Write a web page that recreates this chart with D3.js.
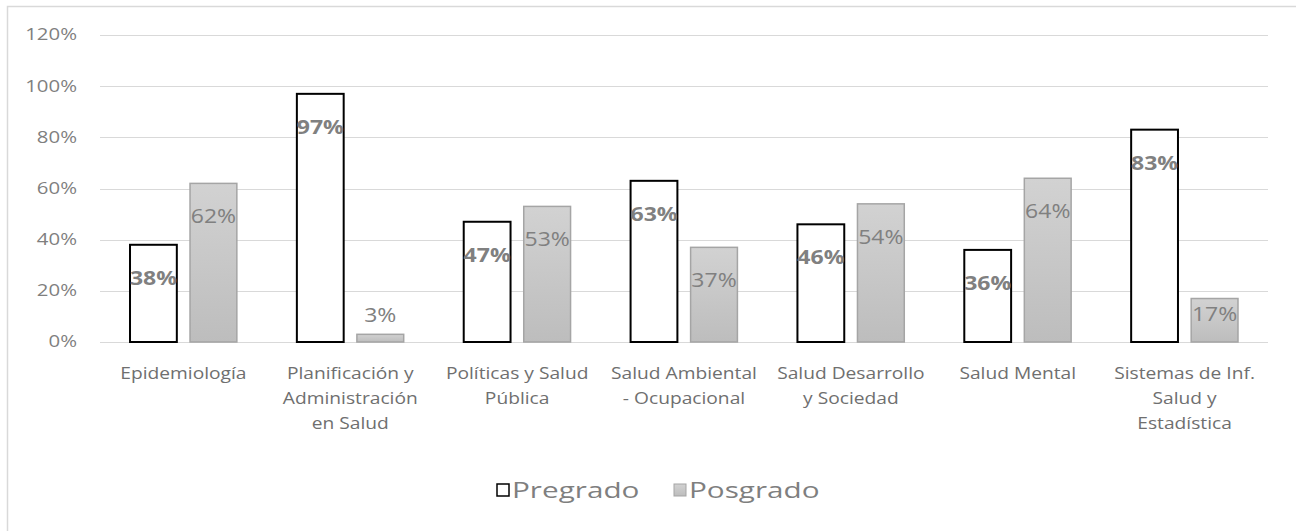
<!doctype html>
<html lang="en">
<head>
  <meta charset="utf-8">
  <title>Pregrado vs Posgrado</title>
  <style>
body {
  margin: 0;
  background: #fff;
}
svg text {
  font-family: "Open Sans", sans-serif;
}
.grid line {
  stroke: #d9d9d9;
  stroke-width: 1.5;
  shape-rendering: crispEdges;
}
  </style>
</head>
<body>
  <script src="https://d3js.org/d3.v7.min.js"></script>
  <script>
// categories and values (percent)
var categories = [
  ["Epidemiología"],
  ["Planificación y", "Administración", "en Salud"],
  ["Políticas y Salud", "Pública"],
  ["Salud Ambiental", "- Ocupacional"],
  ["Salud Desarrollo", "y Sociedad"],
  ["Salud Mental"],
  ["Sistemas de Inf.", "Salud y", "Estadística"]
];
var series = ["Pregrado", "Posgrado"];
var pregrado = [38, 97, 47, 63, 46, 36, 83];
var posgrado = [62, 3, 53, 37, 54, 64, 17];
var yTicks = [0, 20, 40, 60, 80, 100, 120];

var W = 1296, H = 531;
var plot = {left: 100, right: 1268, top: 35, bottom: 342};
// the source picture is a little wide, so text is stretched sideways
var SX = 1.2;

function place(px, py, sx) {
  return "translate(" + px + "," + py + ") scale(" + (sx || SX) + ",1)";
}

var svg = d3.select("body").append("svg")
    .attr("width", W)
    .attr("height", H);

var defs = svg.append("defs");
var grad = defs.append("linearGradient")
    .attr("id", "gray")
    .attr("x1", 0).attr("y1", 0).attr("x2", 0).attr("y2", 1);
grad.append("stop").attr("offset", "0%").attr("stop-color", "#d2d2d2");
grad.append("stop").attr("offset", "100%").attr("stop-color", "#bdbdbd");

// chart border
svg.append("rect")
    .attr("x", 7.5).attr("y", 6.5)
    .attr("width", W).attr("height", H)
    .attr("fill", "none")
    .attr("stroke", "#d9d9d9")
    .attr("stroke-width", 1.5);

var x = d3.scaleBand()
    .domain(d3.range(categories.length))
    .range([plot.left, plot.right]);

var x1 = d3.scaleBand()
    .domain(series)
    .range([0, x.bandwidth()])
    .paddingInner(0.22)
    .paddingOuter(0.5);

var y = d3.scaleLinear()
    .domain([0, 120])
    .range([plot.bottom, plot.top]);

// gridlines
svg.append("g")
    .attr("class", "grid")
    .selectAll("line")
    .data(yTicks)
    .enter().append("line")
    .attr("x1", plot.left)
    .attr("x2", plot.right)
    .attr("y1", function(d) { return Math.round(y(d)) + 0.5; })
    .attr("y2", function(d) { return Math.round(y(d)) + 0.5; });

// y axis labels, built by the axis then stretched
var yAxis = d3.axisLeft(y)
    .tickValues(yTicks)
    .tickFormat(function(d) { return d + "%"; })
    .tickSize(0)
    .tickPadding(0);
var gy = svg.append("g")
    .attr("transform", "translate(" + (plot.left - 23) + ",0)")
    .call(yAxis);
gy.select(".domain").remove();
gy.selectAll(".tick").attr("transform", function(d) {
  return place(0, y(d));
});
gy.selectAll("text")
    .attr("x", 0)
    .style("font-size", "17px")
    .style("font-family", "Open Sans, sans-serif")
    .style("fill", "#7f7f7f");

// x axis labels (multi-line)
svg.append("g").selectAll("text")
    .data(categories)
    .enter().append("text")
    .attr("transform", function(d, i) { return place(x(i) + x.bandwidth() / 2, 379); })
    .attr("text-anchor", "middle")
    .style("font-size", "16px")
    .style("fill", "#6f6f6f")
    .selectAll("tspan")
    .data(function(d) { return d; })
    .enter().append("tspan")
    .attr("x", 0)
    .attr("dy", function(d, i) { return i === 0 ? 0 : 25; })
    .text(function(d) { return d; });

var rows = categories.map(function(c, i) {
  return {i: i, values: [
    {key: "Pregrado", value: pregrado[i]},
    {key: "Posgrado", value: posgrado[i]}
  ]};
});

var groups = svg.selectAll(".cat")
    .data(rows)
    .enter().append("g")
    .attr("class", "cat")
    .attr("transform", function(d) { return "translate(" + x(d.i) + ",0)"; });

groups.selectAll("rect")
    .data(function(d) { return d.values; })
    .enter().append("rect")
    .attr("x", function(d) { return x1(d.key); })
    .attr("width", x1.bandwidth())
    .attr("y", function(d) { return y(d.value); })
    .attr("height", function(d) { return y(0) - y(d.value); })
    .attr("fill", function(d) { return d.key === "Pregrado" ? "#fff" : "url(#gray)"; })
    .attr("stroke", function(d) { return d.key === "Pregrado" ? "#000" : "#a5a5a5"; })
    .attr("stroke-width", function(d) { return d.key === "Pregrado" ? 2 : 1.5; });

// value labels, inside the top of the bar, above it when the bar is too short
groups.selectAll(".lbl")
    .data(function(d) { return d.values; })
    .enter().append("text")
    .attr("class", "lbl")
    .attr("transform", function(d) {
      var top = y(d.value), h = y(0) - top, ly;
      if (h < 20) ly = top - 12;
      else ly = top + Math.min(33, h / 2 - 6) + 7;
      return place(x1(d.key) + x1.bandwidth() / 2, ly, 1.15);
    })
    .attr("text-anchor", "middle")
    .style("font-size", "20px")
    .style("font-weight", function(d) { return d.key === "Pregrado" ? "bold" : "normal"; })
    .style("fill", "#808080")
    .text(function(d) { return d.value + "%"; });

// legend
var legend = svg.append("g").attr("transform", "translate(497,484)");
var item = legend.selectAll("g")
    .data(series)
    .enter().append("g")
    .attr("transform", function(d, i) { return "translate(" + (i * 177) + ",0)"; });
item.append("rect")
    .attr("width", 12).attr("height", 12)
    .attr("fill", function(d) { return d === "Pregrado" ? "#fff" : "url(#gray)"; })
    .attr("stroke", function(d) { return d === "Pregrado" ? "#000" : "#a5a5a5"; })
    .attr("stroke-width", function(d) { return d === "Pregrado" ? 1.5 : 1; });
item.append("text")
    .attr("transform", place(15, 14, 1.35))
    .style("font-size", "22px")
    .style("fill", "#7f7f7f")
    .text(function(d) { return d; });
  </script>
</body>
</html>
